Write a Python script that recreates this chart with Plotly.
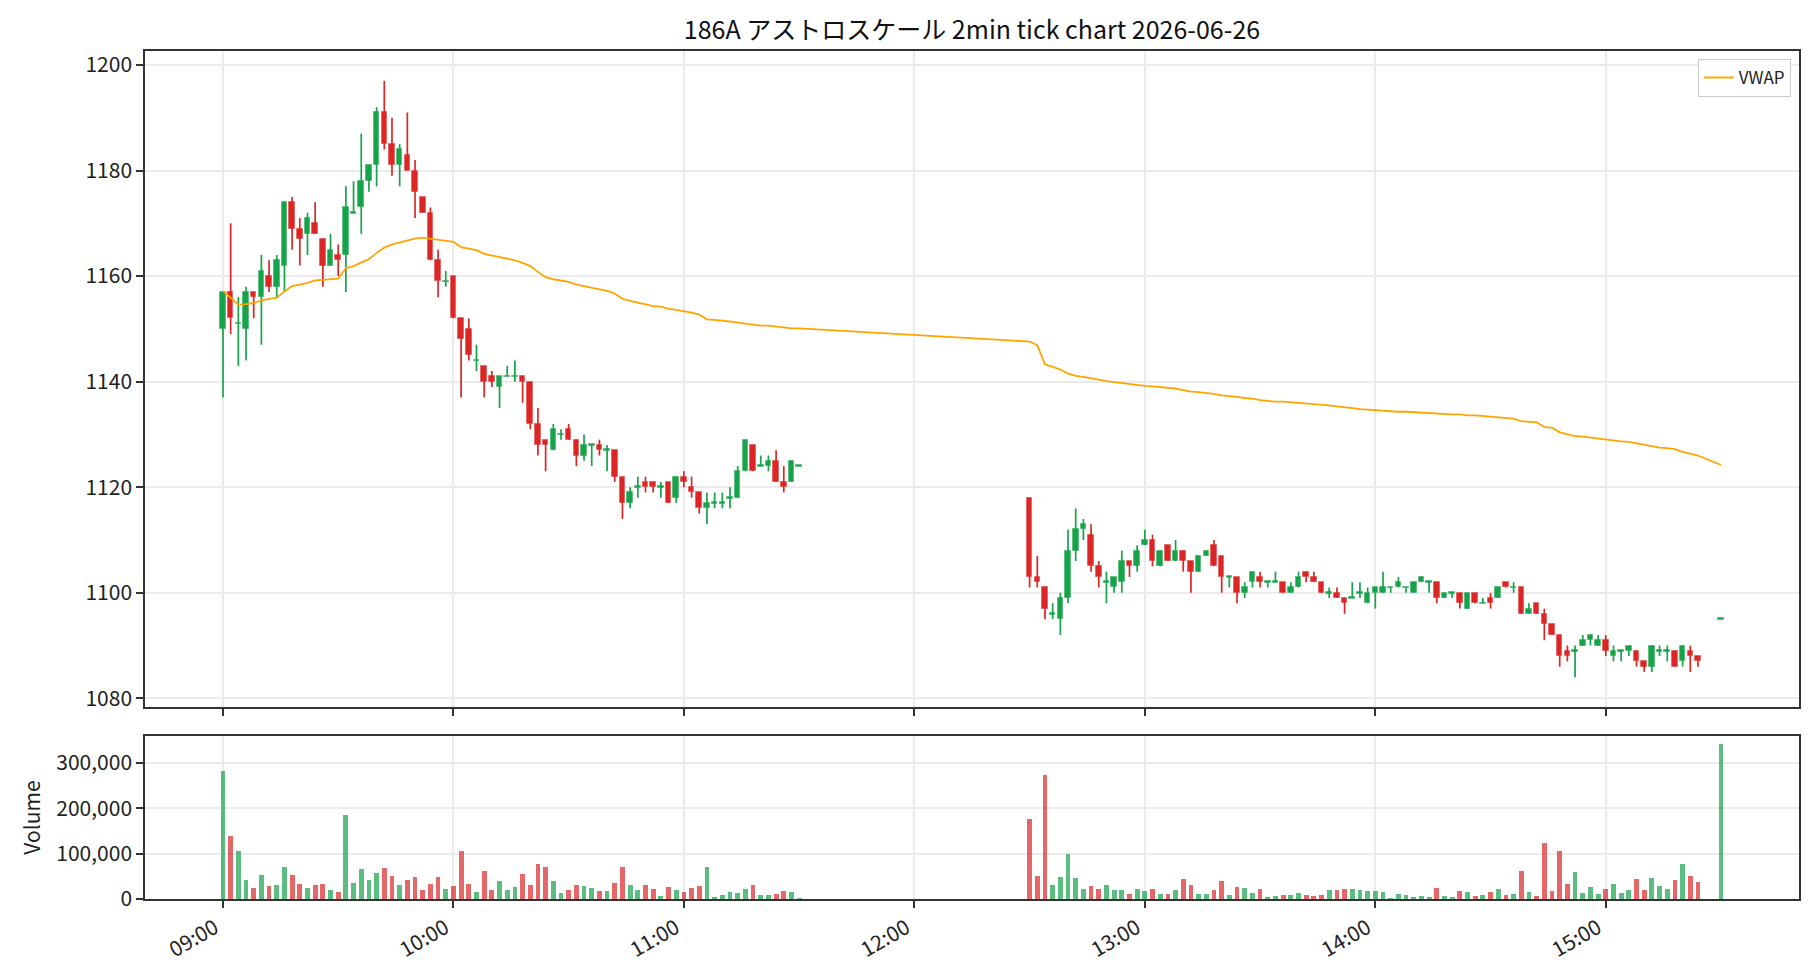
import pandas as pd
import plotly.graph_objects as go

DATE = "2026-06-26"
TITLE = "186A アストロスケール 2min tick chart 2026-06-26"
FONT = "Noto Sans CJK JP"

# ---- session times (2-minute bars) ----
times_am = pd.date_range(f"{DATE} 09:00", f"{DATE} 11:30", freq="2min")
times_pm = pd.date_range(f"{DATE} 12:30", f"{DATE} 15:24", freq="2min").append(
    pd.DatetimeIndex([f"{DATE} 15:30"]))
times = times_am.append(times_pm)

# ---- OHLC: morning session ----
open_am = [1150, 1157, 1151, 1150, 1157, 1156, 1160, 1158, 1162, 1174,
           1169, 1168, 1170, 1167, 1162, 1164, 1164, 1172, 1173, 1178,
           1181, 1191, 1185, 1181, 1183, 1180, 1175, 1172, 1163, 1159,
           1160, 1152, 1150, 1144, 1143, 1141, 1139, 1141, 1141, 1141,
           1140, 1132, 1129, 1127, 1130, 1131, 1129, 1126, 1128, 1128,
           1127, 1127, 1122, 1117, 1120, 1121, 1121, 1120, 1121, 1118,
           1122, 1120, 1119, 1116, 1117, 1117, 1118, 1118, 1123, 1128,
           1124, 1124, 1125, 1121, 1121, 1124]
high_am = [1157, 1170, 1156, 1158, 1157, 1164, 1163, 1164, 1174, 1175,
           1171, 1172, 1174, 1167, 1168, 1166, 1177, 1178, 1187, 1181,
           1192, 1197, 1190, 1185, 1191, 1182, 1175, 1173, 1165, 1161,
           1160, 1152, 1152, 1147, 1143, 1142, 1141, 1143, 1144, 1141,
           1140, 1135, 1129, 1132, 1131, 1132, 1129, 1130, 1128, 1129,
           1128, 1127, 1122, 1120, 1122, 1122, 1121, 1121, 1121, 1122,
           1123, 1122, 1119, 1119, 1119, 1119, 1120, 1124, 1129, 1128,
           1126, 1126, 1127, 1124, 1125, 1124]
low_am = [1137, 1149, 1143, 1144, 1152, 1147, 1157, 1156, 1157, 1165,
          1162, 1164, 1168, 1158, 1162, 1160, 1157, 1172, 1168, 1176,
          1177, 1184, 1179, 1177, 1180, 1171, 1172, 1163, 1156, 1158,
          1152, 1137, 1144, 1142, 1137, 1139, 1135, 1141, 1140, 1136,
          1131, 1126, 1123, 1127, 1129, 1129, 1124, 1125, 1124, 1126,
          1123, 1121, 1114, 1116, 1118, 1119, 1119, 1118, 1117, 1117,
          1120, 1118, 1115, 1113, 1116, 1116, 1116, 1118, 1123, 1123,
          1124, 1123, 1121, 1119, 1121, 1124]
close_am = [1157, 1152, 1151, 1157, 1156, 1161, 1158, 1163, 1174, 1169,
            1167, 1171, 1168, 1162, 1165, 1163, 1173, 1172, 1178, 1181,
            1191, 1185, 1181, 1184, 1180, 1176, 1172, 1163, 1159, 1159,
            1152, 1148, 1145, 1144, 1140, 1140, 1141, 1141, 1141, 1140,
            1132, 1128, 1128, 1131, 1130, 1129, 1126, 1128, 1128, 1127,
            1127, 1122, 1117, 1119, 1120, 1120, 1120, 1120, 1117, 1122,
            1121, 1119, 1116, 1117, 1117, 1117, 1118, 1123, 1129, 1123,
            1124, 1125, 1121, 1120, 1125, 1124]

# ---- OHLC: afternoon session ----
open_pm = [1118, 1103, 1101, 1096, 1095, 1099, 1108, 1112, 1111, 1105,
           1102, 1101, 1102, 1106, 1105, 1109, 1110, 1105, 1109, 1106,
           1108, 1106, 1104, 1107, 1109, 1107, 1103, 1103, 1100, 1102,
           1103, 1102, 1102, 1102, 1100, 1101, 1104, 1103, 1102, 1100,
           1100, 1099, 1099, 1100, 1098, 1100, 1100, 1101, 1101, 1101,
           1100, 1102, 1102, 1102, 1099, 1100, 1100, 1097, 1100, 1098,
           1099, 1099, 1102, 1101, 1101, 1096, 1098, 1096, 1094, 1092,
           1089, 1089, 1090, 1091, 1090, 1091, 1088, 1089, 1089, 1089,
           1087, 1086, 1089, 1089, 1089, 1087, 1089, 1088, 1095]
high_pm = [1118, 1107, 1101, 1098, 1100, 1112, 1116, 1114, 1113, 1106,
           1104, 1103, 1108, 1106, 1109, 1112, 1111, 1108, 1109, 1110,
           1108, 1106, 1107, 1108, 1110, 1107, 1103, 1103, 1102, 1104,
           1104, 1102, 1104, 1102, 1102, 1104, 1104, 1104, 1102, 1101,
           1101, 1099, 1102, 1102, 1101, 1101, 1104, 1101, 1103, 1101,
           1102, 1103, 1102, 1102, 1100, 1100, 1100, 1100, 1100, 1099,
           1100, 1101, 1102, 1102, 1101, 1098, 1098, 1097, 1094, 1092,
           1090, 1090, 1092, 1092, 1092, 1092, 1090, 1089, 1090, 1089,
           1087, 1090, 1090, 1090, 1089, 1090, 1090, 1088, 1095]
low_pm = [1101, 1101, 1095, 1095, 1092, 1098, 1106, 1110, 1104, 1101,
          1098, 1100, 1100, 1103, 1104, 1109, 1105, 1105, 1106, 1106,
          1104, 1100, 1104, 1107, 1105, 1100, 1101, 1098, 1099, 1101,
          1101, 1101, 1102, 1100, 1100, 1101, 1102, 1102, 1100, 1099,
          1099, 1096, 1099, 1099, 1098, 1097, 1100, 1100, 1101, 1100,
          1100, 1102, 1100, 1098, 1099, 1099, 1097, 1097, 1098, 1098,
          1097, 1099, 1101, 1100, 1096, 1096, 1096, 1091, 1092, 1086,
          1087, 1084, 1090, 1090, 1090, 1088, 1087, 1087, 1088, 1086,
          1085, 1085, 1088, 1087, 1086, 1086, 1085, 1086, 1095]
close_pm = [1103, 1102, 1097, 1096, 1099, 1108, 1112, 1113, 1105, 1103,
            1102, 1103, 1106, 1105, 1108, 1110, 1106, 1108, 1106, 1108,
            1106, 1104, 1107, 1108, 1105, 1103, 1103, 1100, 1101, 1104,
            1102, 1102, 1102, 1100, 1101, 1103, 1103, 1102, 1100, 1100,
            1099, 1098, 1099, 1100, 1100, 1101, 1101, 1101, 1102, 1101,
            1102, 1103, 1102, 1099, 1100, 1100, 1098, 1100, 1098, 1098,
            1098, 1101, 1101, 1101, 1096, 1097, 1096, 1094, 1092, 1088,
            1088, 1089, 1091, 1092, 1091, 1089, 1089, 1089, 1090, 1087,
            1086, 1090, 1089, 1089, 1086, 1090, 1088, 1087, 1095]

# ---- volume (thousand shares) ----
volume_am = [281, 139, 106, 42, 25, 53, 29, 31, 71, 53,
             34, 25, 31, 34, 20, 16, 185, 36, 66, 42,
             58, 69, 51, 31, 42, 49, 20, 34, 49, 23,
             29, 106, 34, 16, 62, 20, 40, 20, 27, 55,
             31, 77, 71, 40, 14, 20, 31, 29, 25, 18,
             18, 36, 71, 31, 20, 31, 23, 7, 27, 20,
             16, 25, 29, 71, 5, 9, 16, 14, 23, 31,
             9, 9, 12, 18, 16, 3]
volume_pm = [176, 51, 274, 31, 49, 99, 47, 23, 29, 23,
             31, 20, 20, 12, 23, 18, 23, 12, 12, 20,
             45, 31, 12, 12, 20, 40, 9, 27, 25, 14,
             23, 5, 7, 9, 9, 14, 9, 7, 9, 20,
             20, 23, 21, 20, 18, 18, 16, 3, 12, 9,
             5, 7, 5, 25, 7, 5, 18, 16, 7, 9,
             16, 23, 9, 12, 62, 16, 7, 123, 18, 106,
             34, 60, 14, 27, 12, 23, 34, 14, 20, 45,
             20, 47, 29, 23, 42, 77, 51, 38, 342]
VOL_UNIT = 1000

# ---- VWAP ----
vwap_am = [1157.2, 1155.9, 1154.6, 1154.7, 1154.9, 1155.4, 1155.6, 1155.9, 1157.1, 1158.1,
           1158.4, 1158.7, 1159.2, 1159.3, 1159.5, 1159.5, 1161.5, 1161.9, 1162.6, 1163.2,
           1164.4, 1165.4, 1166.0, 1166.4, 1166.8, 1167.1, 1167.3, 1167.1, 1166.9, 1166.8,
           1166.5, 1165.5, 1165.2, 1164.9, 1164.2, 1163.9, 1163.5, 1163.3, 1163.0, 1162.5,
           1161.9, 1160.8, 1159.8, 1159.4, 1159.2, 1158.9, 1158.4, 1158.1, 1157.9, 1157.6,
           1157.2, 1156.7, 1155.7, 1155.3, 1155.0, 1154.7, 1154.3, 1154.2, 1153.8, 1153.6,
           1153.4, 1153.1, 1152.7, 1151.8, 1151.7, 1151.6, 1151.4, 1151.2, 1151.0, 1150.8,
           1150.6, 1150.6, 1150.4, 1150.3, 1150.1, 1150.1]
vwap_pm = [1147.6, 1146.9, 1143.3, 1142.8, 1142.3, 1141.5, 1141.1, 1140.9, 1140.7, 1140.4,
           1140.1, 1139.9, 1139.7, 1139.6, 1139.4, 1139.2, 1139.1, 1139.0, 1138.9, 1138.7,
           1138.4, 1138.1, 1138.0, 1137.9, 1137.7, 1137.4, 1137.3, 1137.1, 1136.9, 1136.8,
           1136.5, 1136.3, 1136.2, 1136.2, 1136.1, 1136.0, 1135.9, 1135.8, 1135.7, 1135.5,
           1135.3, 1135.2, 1135.0, 1134.8, 1134.7, 1134.5, 1134.5, 1134.4, 1134.3, 1134.3,
           1134.2, 1134.2, 1134.1, 1134.0, 1133.9, 1133.8, 1133.8, 1133.6, 1133.6, 1133.5,
           1133.4, 1133.3, 1133.1, 1133.0, 1132.5, 1132.4, 1132.3, 1131.4, 1131.3, 1130.4,
           1130.1, 1129.7, 1129.6, 1129.4, 1129.3, 1129.1, 1128.8, 1128.7, 1128.6, 1128.3,
           1128.1, 1127.7, 1127.5, 1127.4, 1127.2, 1126.7, 1126.3, 1126.0, 1124.2]

# ---- axis ticks ----
x_tick_labels = ["09:00", "10:00", "11:00", "12:00", "13:00", "14:00", "15:00"]
price_ticks = [1080, 1100, 1120, 1140, 1160, 1180, 1200]
volume_ticks = [0, 100000, 200000, 300000]

# ---- assemble ----
o = open_am + open_pm
h = high_am + high_pm
l = low_am + low_pm
c = close_am + close_pm
v = [x * VOL_UNIT for x in volume_am + volume_pm]
vw = vwap_am + vwap_pm
t = list(times)

UP = "#16a34a"
DN = "#dc2626"
UP_EDGE = "#5fbf80"
DN_EDGE = "#e76b6b"
VOL_UP = "rgba(22,163,74,0.7)"
VOL_DN = "rgba(220,38,38,0.7)"
GRID = "#ebebeb"
AXIS = "#333333"

up = [ci >= oi for oi, ci in zip(o, c)]
MIN_BODY = 0.3

fig = go.Figure()

# wicks
for is_up, col in ((True, UP), (False, DN)):
    wx, wy = [], []
    for i in range(len(t)):
        if up[i] == is_up:
            wx += [t[i], t[i], None]
            wy += [l[i], h[i], None]
    fig.add_trace(go.Scatter(x=wx, y=wy, mode="lines", line=dict(color=col, width=1.7),
                             showlegend=False, hoverinfo="skip", xaxis="x", yaxis="y"))

# bodies
for is_up, col, edge in ((True, UP, UP_EDGE), (False, DN, DN_EDGE)):
    bx, bb, bh = [], [], []
    for i in range(len(t)):
        if up[i] == is_up:
            lo, hi = min(o[i], c[i]), max(o[i], c[i])
            hgt = hi - lo
            if hgt < MIN_BODY:
                lo -= MIN_BODY / 2
                hgt = MIN_BODY
            bx.append(t[i]); bb.append(lo); bh.append(hgt)
    fig.add_trace(go.Bar(x=bx, y=bh, base=bb, width=1.45 * 60000,
                         marker=dict(color=col, line=dict(color=edge, width=1)),
                         showlegend=False, hoverinfo="skip", xaxis="x", yaxis="y"))

# VWAP
fig.add_trace(go.Scatter(x=t, y=vw, mode="lines", name="VWAP",
                         line=dict(color="#FFA500", width=1.8), xaxis="x", yaxis="y"))

# volume
fig.add_trace(go.Bar(x=t, y=v, width=1.25 * 60000,
                     marker=dict(color=[VOL_UP if u else VOL_DN for u in up], line=dict(width=0)),
                     showlegend=False, hoverinfo="skip", xaxis="x2", yaxis="y2"))

tickvals = [f"{DATE} {s}" for s in x_tick_labels]
xrange = [f"{DATE} 08:39:42", f"{DATE} 15:50:18"]

common_x = dict(type="date", range=xrange, tickvals=tickvals, ticktext=x_tick_labels,
                showgrid=True, gridcolor=GRID, gridwidth=1.5, ticks="outside", ticklen=7,
                tickwidth=1.5, tickcolor=AXIS, showline=True, linecolor=AXIS, linewidth=1.5,
                mirror=True, zeroline=False)
common_y = dict(showgrid=True, gridcolor=GRID, gridwidth=1.5, ticks="outside", ticklen=7,
                tickwidth=1.5, tickcolor=AXIS, showline=True, linecolor=AXIS, linewidth=1.5,
                mirror=True, zeroline=False)

fig.update_layout(
    width=1820, height=980,
    margin=dict(l=145, r=21, t=51, b=81),
    paper_bgcolor="white", plot_bgcolor="white",
    font=dict(family=FONT, size=21, color="#222222"),
    barmode="overlay",
    bargap=0,
    title=dict(text=TITLE, x=0.5, xref="paper", xanchor="center", y=1 - 30 / 980,
               yanchor="middle", font=dict(family=FONT, size=25, color="#111111")),
    xaxis=dict(domain=[0, 1], anchor="y", showticklabels=False, **common_x),
    xaxis2=dict(domain=[0, 1], anchor="y2", matches="x", tickangle=-30, ticklabelshift=-8,
                **common_x),
    yaxis=dict(domain=[0.2264, 1], range=[1078.35, 1202.65], tickvals=price_ticks, **common_y),
    yaxis2=dict(domain=[0, 0.1922], range=[0, 359000], tickvals=volume_ticks, tickformat=",d",
                title=dict(text="Volume", standoff=10, font=dict(size=21)), **common_y),
    legend=dict(x=0.995, y=0.9906, xanchor="right", yanchor="top", bgcolor="white",
                bordercolor="#cccccc", borderwidth=1, font=dict(size=17)),
    showlegend=True,
)

fig.write_html("out.html")
